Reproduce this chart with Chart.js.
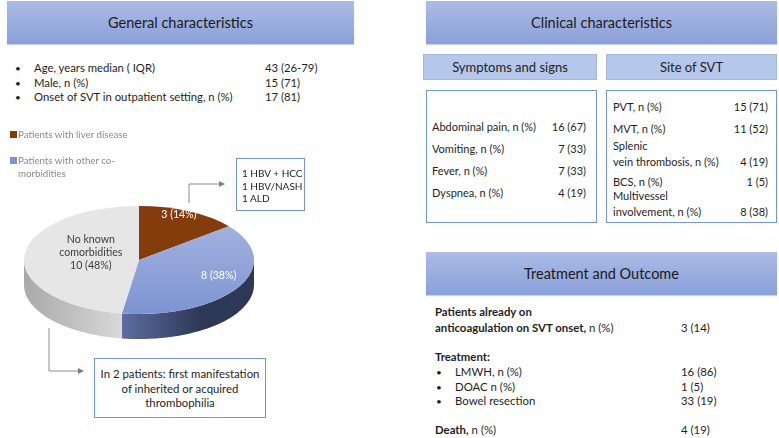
<!DOCTYPE html>
<html>
<head>
<meta charset="utf-8">
<script src="https://cdn.jsdelivr.net/npm/chart.js@4.4.1/dist/chart.umd.min.js"></script>
<style>
    body { margin: 0; background: #fff; font-family: Lato, "Noto Sans", sans-serif; color: #1e1e1e; }
    #page { position: relative; width: 779px; height: 438px; overflow: hidden; }
    .hdr {
        position: absolute; display: flex; align-items: center; justify-content: center;
        background: linear-gradient(#abbbe4, #8aa0d9); font-size: 14.5px; color: #1a1a1a;
        box-shadow: 0 1px 1px #c9d3ee;
    }
    .sub {
        position: absolute; display: flex; align-items: center; justify-content: center;
        background: #b5c7ea; border: 1px solid #a4b8e3; box-sizing: border-box; font-size: 13px;
    }
    .box { position: absolute; border: 1px solid #7496d6; box-sizing: border-box; background: #fff; }
    .t { position: absolute; white-space: nowrap; line-height: 14px; }
    .r { text-align: right; }
    #pieWrap { position: absolute; left: 0; top: 175px; width: 278px; height: 170px; }
    svg { position: absolute; left: 0; top: 0; }
</style>
</head>
<body>
<div id="page">
    <div class="hdr" style="left:7px;top:1px;width:347px;height:43px;">General characteristics</div>
    <div class="hdr" style="left:426px;top:1px;width:351px;height:43px;">Clinical characteristics</div>
    <div class="hdr" style="left:426px;top:252px;width:351px;height:43px;">Treatment and Outcome</div>

    <div class="sub" style="left:423px;top:54px;width:174px;height:26px;">Symptoms and signs</div>
    <div class="sub" style="left:606px;top:54px;width:171px;height:26px;">Site of SVT</div>
    <div class="box" style="left:426px;top:90px;width:171px;height:133px;"></div>
    <div class="box" style="left:606px;top:90px;width:171px;height:133px;"></div>

    <div class="box" style="left:236px;top:158px;width:69px;height:53px;"></div>
    <div class="box" style="left:94px;top:358px;width:172px;height:60px;"></div>

    <svg width="779" height="438">
        <defs>
            <marker id="ah" markerWidth="6" markerHeight="6" refX="5" refY="3" orient="auto">
                <path d="M0,0 L6,3 L0,6 z" fill="#7f7f7f"></path>
            </marker>
        </defs>
        <polyline points="189,203 189,184 224,184" fill="none" stroke="#8c8c8c" stroke-width="1" marker-end="url(#ah)"></polyline>
        <polyline points="49,328 49,371 83,371" fill="none" stroke="#8c8c8c" stroke-width="1" marker-end="url(#ah)"></polyline>
    </svg>

    <div id="pieWrap"><canvas id="pieChart" width="278" height="170"></canvas></div>
    <div id="texts"></div>
</div>

<script>
/**=================
 * Data
 =================*/
const pieLabels = ['Patients with liver disease', 'Patients with other co-morbidities', 'No known comorbidities'];
const pieCounts = [3, 8, 10];
const piePercents = [14, 38, 48];

const generalItems = ['Age, years median ( IQR)', 'Male, n (%)', 'Onset of SVT in outpatient setting, n (%)'];
const generalValues = ['43 (26-79)', '15 (71)', '17 (81)'];

const symptomItems = ['Abdominal pain, n (%)', 'Vomiting, n (%)', 'Fever, n (%)', 'Dyspnea, n (%)'];
const symptomValues = ['16 (67)', '7 (33)', '7 (33)', '4 (19)'];

const siteItems = ['PVT, n (%)', 'MVT, n (%)', 'Splenic\nvein thrombosis, n (%)', 'BCS, n (%)', 'Multivessel\ninvolvement, n (%)'];
const siteValues = ['15 (71)', '11 (52)', '4 (19)', '1 (5)', '8 (38)'];

const treatmentItems = ['LMWH, n (%)', 'DOAC n (%)', 'Bowel resection'];
const treatmentValues = ['16 (86)', '1 (5)', '33 (19)'];
const anticoagValue = '3 (14)';
const deathValue = '4 (19)';

const liverNotes = ['1 HBV + HCC', '1 HBV/NASH', '1 ALD'];
const thrombophiliaNote = ['In 2 patients: first manifestation', 'of inherited or acquired', 'thrombophilia'];

/**=================
 * Styles
 =================*/
const faceColors = ['#843c0c', ['#aab8e2', '#7d94d2'], '#e6e6e6'];
const sideColors = [['#5a2808', '#3e1b05'], ['#5c6e9f', '#2d3756'], ['#a9a9a9', '#d8d8d8']];
const labelColors = ['#ffffff', '#ffffff', '#3c3c3c'];
const labelRadius = [0.8, 0.8, 0.42];
const tilt = 0.47;
const depth = 25;

/**=================
 * Text blocks
 =================*/
const texts = document.getElementById('texts');

function addText(str, x, y, size, opts = {}) {
    const d = document.createElement('div');
    d.className = 't' + (opts.right ? ' r' : '');
    d.style.fontSize = size + 'px';
    d.style.top = (y - 7) + 'px';
    if (opts.right) {
        d.style.left = (x - 200) + 'px';
        d.style.width = '200px';
    } else if (opts.center) {
        d.style.left = (x - 150) + 'px';
        d.style.width = '300px';
        d.style.textAlign = 'center';
    } else {
        d.style.left = x + 'px';
    }
    if (opts.color) d.style.color = opts.color;
    d.innerHTML = str;
    texts.appendChild(d);
}

generalItems.forEach((item, i) => {
    const y = 68 + i * 14.5;
    addText('•', 15, y, 10);
    addText(item, 34, y, 11.3);
    addText(generalValues[i], 265, y, 11.3);
});

// legend (only the two comorbidity groups are listed)
[[0, 134], [1, 160]].forEach(([idx, y]) => {
    const sq = document.createElement('div');
    sq.style.cssText = `position:absolute;left:10px;top:${y - 3}px;width:7px;height:7px;`;
    sq.style.background = Array.isArray(faceColors[idx]) ? faceColors[idx][1] : faceColors[idx];
    texts.appendChild(sq);
});
addText(pieLabels[0], 18, 134, 9.7, { color: '#8a8a8a' });
addText('Patients with other co-', 18, 160, 9.7, { color: '#8a8a8a' });
addText('morbidities', 18, 173, 9.7, { color: '#8a8a8a' });

liverNotes.forEach((line, i) => addText(line, 242, 173 + i * 12.5, 10));
thrombophiliaNote.forEach((line, i) => addText(line, 180, 374 + i * 14.5, 11.4, { center: true }));

symptomItems.forEach((item, i) => {
    const y = 127 + i * 22;
    addText(item, 432, y, 11);
    addText(symptomValues[i], 586, y, 11, { right: true });
});

const siteRowsY = [107, 129, 162, 182, 212];
siteItems.forEach((item, i) => {
    const lines = item.split('\n');
    const y = siteRowsY[i];
    lines.forEach((line, j) => addText(line, 613, y - (lines.length - 1 - j) * 16, 11));
    addText(siteValues[i], 768, y, 11, { right: true });
});

addText('<b>Patients already on</b>', 435, 312, 11.4);
addText('<b>anticoagulation on SVT onset,</b> n (%)', 435, 328, 11.4);
addText(anticoagValue, 681, 328, 11.4);
addText('<b>Treatment:</b>', 435, 357, 11.4);
treatmentItems.forEach((item, i) => {
    const y = 372 + i * 14.5;
    addText('•', 436, y, 10);
    addText(item, 455, y, 11.4);
    addText(treatmentValues[i], 681, y, 11.4);
});
addText('<b>Death,</b> n (%)', 435, 430, 11.4);
addText(deathValue, 681, 430, 11.4);

/**=================
 * 3D Pie
 =================*/
const pie3d = {
    id: 'pie3d',
    beforeDatasetsDraw(chart) {
        const ctx = chart.ctx;
        const arcs = chart.getDatasetMeta(0).data;

        // side walls (front half only)
        arcs.forEach((arc, i) => {
            const { x, y, startAngle, endAngle, outerRadius: r } =
                arc.getProps(['x', 'y', 'startAngle', 'endAngle', 'outerRadius'], true);
            const a1 = Math.max(startAngle, 0);
            const a2 = Math.min(endAngle, Math.PI);
            if (a2 <= a1) return;
            const x1 = x + r * Math.cos(a2), x2 = x + r * Math.cos(a1);
            const g = ctx.createLinearGradient(Math.min(x1, x2), 0, Math.max(x1, x2), 0);
            const [cA, cB] = sideColors[i];
            if (i === 2) { g.addColorStop(0, cA); g.addColorStop(1, cB); }
            else { g.addColorStop(0, cA); g.addColorStop(0.6, cB); g.addColorStop(1, cB); }
            ctx.beginPath();
            ctx.ellipse(x, y, r, r * tilt, 0, a1, a2);
            ctx.lineTo(x + r * Math.cos(a2), y + r * tilt * Math.sin(a2) + depth);
            ctx.ellipse(x, y + depth, r, r * tilt, 0, a2, a1, true);
            ctx.closePath();
            ctx.fillStyle = g;
            ctx.fill();
        });

        // top faces
        arcs.forEach((arc, i) => {
            const { x, y, startAngle, endAngle, outerRadius: r } =
                arc.getProps(['x', 'y', 'startAngle', 'endAngle', 'outerRadius'], true);
            let fill = faceColors[i];
            if (Array.isArray(fill)) {
                const g = ctx.createLinearGradient(0, y - r * tilt, 0, y + r * tilt);
                g.addColorStop(0, fill[0]);
                g.addColorStop(1, fill[1]);
                fill = g;
            }
            ctx.beginPath();
            ctx.moveTo(x, y);
            ctx.ellipse(x, y, r, r * tilt, 0, startAngle, endAngle);
            ctx.closePath();
            ctx.fillStyle = fill;
            ctx.fill();
        });

        // labels
        ctx.font = '10.6px Lato, "Noto Sans", sans-serif';
        ctx.textAlign = 'center';
        ctx.textBaseline = 'middle';
        arcs.forEach((arc, i) => {
            const { x, y, startAngle, endAngle, outerRadius: r } =
                arc.getProps(['x', 'y', 'startAngle', 'endAngle', 'outerRadius'], true);
            const mid = (startAngle + endAngle) / 2;
            const lx = x + r * labelRadius[i] * Math.cos(mid);
            const ly = y + r * tilt * labelRadius[i] * Math.sin(mid);
            const value = `${pieCounts[i]} (${piePercents[i]}%)`;
            const lines = i === 2 ? ['No known', 'comorbidities', value] : [value];
            ctx.fillStyle = labelColors[i];
            lines.forEach((line, j) => {
                ctx.fillText(line, lx, ly + (j - (lines.length - 1) / 2) * 13 - 6);
            });
        });
        return false;
    }
};

const pieChart = new Chart(document.getElementById('pieChart'), {
    type: 'pie',
    data: {
        labels: pieLabels,
        datasets: [{
            data: pieCounts,
            backgroundColor: faceColors.map(c => Array.isArray(c) ? c[1] : c),
            borderWidth: 0
        }]
    },
    options: {
        responsive: false,
        animation: false,
        radius: 115,
        layout: { padding: 0 },
        plugins: {
            legend: { display: false },
            tooltip: { enabled: false }
        }
    },
    plugins: [pie3d]
});
</script>
</body>
</html>
